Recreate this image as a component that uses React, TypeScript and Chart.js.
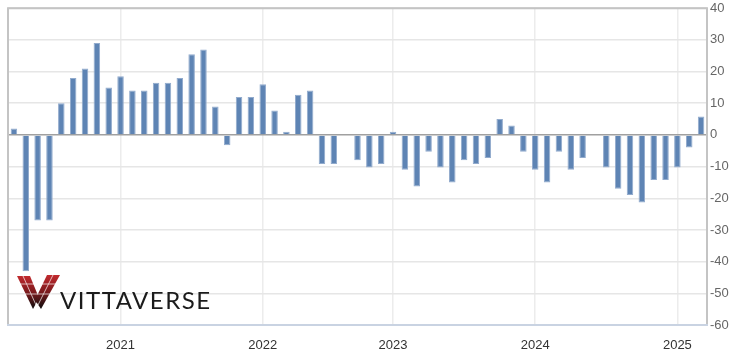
import React, { useEffect, useRef } from "react";
import { Chart, registerables } from "chart.js";

Chart.register(...registerables);

// Monthly change values, Apr 2020 .. Mar 2025 (as plotted, one bar per category)
const categories: string[] = [
  "Apr 2020", "May 2020", "Jun 2020", "Jul 2020", "Aug 2020", "Sep 2020", "Oct 2020", "Nov 2020", "Dec 2020",
  "Jan 2021", "Feb 2021", "Mar 2021", "Apr 2021", "May 2021", "Jun 2021", "Jul 2021", "Aug 2021", "Sep 2021", "Oct 2021", "Nov 2021", "Dec 2021",
  "Jan 2022", "Feb 2022", "Mar 2022", "Apr 2022", "May 2022", "Jun 2022", "Jul 2022", "Aug 2022", "Sep 2022", "Oct 2022", "Nov 2022",
  "Jan 2023", "Feb 2023", "Mar 2023", "Apr 2023", "May 2023", "Jun 2023", "Jul 2023", "Aug 2023", "Sep 2023", "Oct 2023", "Nov 2023", "Dec 2023",
  "Jan 2024", "Feb 2024", "Mar 2024", "Apr 2024", "May 2024", "Jun 2024", "Jul 2024", "Aug 2024", "Sep 2024", "Oct 2024", "Nov 2024", "Dec 2024",
  "Jan 2025", "Feb 2025", "Mar 2025",
];

const values: number[] = [
  2, -43, -27, -27, 10, 18, 21, 29, 15,
  18.5, 14, 14, 16.5, 16.5, 18, 25.5, 27, 9, -3.3, 12, 12,
  16, 7.7, 1, 12.7, 14, -9.2, -9.2, 0, -8, -10.3, -9.2,
  1, -11, -16.3, -5.3, -10.3, -15, -8, -9.2, -7.3, 5, 3, -5.3,
  -11, -15, -5.3, -11, -7.3, 0, -10.3, -17, -19, -21.3, -14.2, -14.2,
  -10.3, -4, 5.8,
];

const yMin = -60;
const yMax = 40;
const yStep = 10;

const yearOf = (label: string): string =>
  label.startsWith("Jan ") ? label.slice(4) : "";

const frame = {
  id: "frame",
  afterDraw(chart: any) {
    const { ctx, chartArea: a } = chart;
    ctx.save();
    ctx.lineWidth = 2;
    ctx.strokeStyle = "#c4c4c4";
    ctx.beginPath();
    ctx.moveTo(a.left, a.bottom);
    ctx.lineTo(a.left, a.top);
    ctx.lineTo(a.right, a.top);
    ctx.lineTo(a.right, a.bottom);
    ctx.stroke();
    ctx.strokeStyle = "#c9d3e2";
    ctx.beginPath();
    ctx.moveTo(a.left - 1, a.bottom);
    ctx.lineTo(a.right + 1, a.bottom);
    ctx.stroke();
    ctx.restore();
  },
};

export default function App() {
  const ref = useRef<HTMLCanvasElement | null>(null);

  useEffect(() => {
    if (!ref.current) return;
    const chart = new Chart(ref.current, {
      type: "bar",
      data: {
        labels: categories,
        datasets: [
          {
            data: values,
            backgroundColor: "#5e84b4",
            borderColor: "#92abcd",
            borderWidth: 1,
            barPercentage: 0.55,
            categoryPercentage: 1,
          },
        ],
      },
      options: {
        responsive: false,
        animation: false,
        layout: { padding: { left: 8, top: 6, right: 0, bottom: 0 } },
        plugins: { legend: { display: false }, tooltip: { enabled: false } },
        scales: {
          x: {
            offset: true,
            grid: {
              offset: false,
              drawTicks: false,
              color: (c: any) =>
                c.tick && yearOf(categories[c.index] || "") ? "#ececec" : "rgba(0,0,0,0)",
              lineWidth: 1.5,
            },
            border: { display: false },
            ticks: {
              autoSkip: false,
              maxRotation: 0,
              padding: 13,
              color: "#333333",
              font: { family: "Liberation Sans, Arial, sans-serif", size: 13 },
              callback: (_v: any, i: number) => yearOf(categories[i]),
            },
            afterFit: (s: any) => {
              s.height = 32;
            },
          },
          y: {
            position: "right",
            min: yMin,
            max: yMax,
            grid: {
              drawTicks: false,
              color: (c: any) => (c.tick && c.tick.value === 0 ? "#a0a0a0" : "#e6e6e6"),
              lineWidth: 1.5,
            },
            border: { display: false },
            ticks: {
              stepSize: yStep,
              padding: 3,
              color: "#666666",
              font: { family: "Liberation Sans, Arial, sans-serif", size: 13, lineHeight: 0.8 },
            },
            afterFit: (s: any) => {
              s.width = 30;
            },
          },
        },
      },
      plugins: [frame],
    });
    return () => chart.destroy();
  }, []);

  return (
    <div style={{ position: "fixed", left: 0, top: 0, width: 737, height: 357, background: "#fff" }}>
      <canvas ref={ref} width={737} height={357} style={{ display: "block" }} />
      <svg
        width={737}
        height={357}
        style={{ position: "absolute", left: 0, top: 0, pointerEvents: "none" }}
      >
        <defs>
          <linearGradient id="wgrad" x1="0" y1="0" x2="0" y2="1">
            <stop offset="0" stopColor="#c22a2e" />
            <stop offset="0.5" stopColor="#7a1a1d" />
            <stop offset="1" stopColor="#0e0e0e" />
          </linearGradient>
        </defs>
        <polygon points="17,276 30,276 39,298 33,309" fill="url(#wgrad)" />
        <polygon points="47,275 60,275 41,309 35,300" fill="url(#wgrad)" />
        <g stroke="#ffffff" strokeWidth={0.8} opacity={0.85}>
          <line x1="20" y1="284" x2="58" y2="284" />
          <line x1="24" y1="294" x2="52" y2="294" />
          <line x1="23" y1="276" x2="36" y2="305" />
          <line x1="53" y1="275" x2="38" y2="305" />
        </g>
      </svg>
      <div
        style={{
          position: "absolute",
          left: 60,
          top: 286,
          fontFamily: "Lato, 'Open Sans', sans-serif",
          fontWeight: 400,
          fontSize: 24,
          letterSpacing: 1.5,
          color: "#1b1b1b",
          lineHeight: "28px",
          whiteSpace: "nowrap",
        }}
      >
        VITTAVERSE
      </div>
    </div>
  );
}
